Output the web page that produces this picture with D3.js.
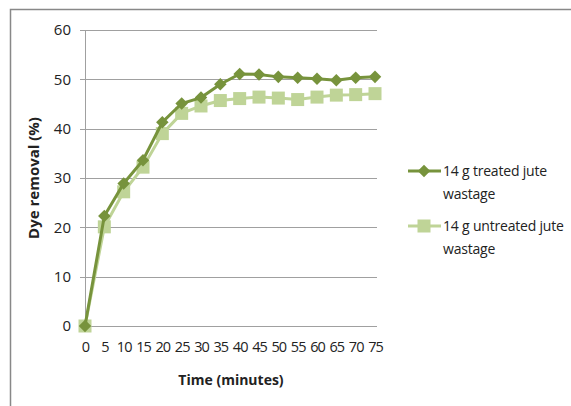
<!DOCTYPE html>
<html>
<head>
<meta charset="utf-8">
<script src="https://cdn.jsdelivr.net/npm/d3@7"></script>
<style>
  body { margin: 0; background: #fff; }
  text { font-family: "Open Sans", "Noto Sans", sans-serif; fill: #222; }
</style>
</head>
<body>
<svg id="chart" width="571" height="406"></svg>
<script>
let times = [0, 5, 10, 15, 20, 25, 30, 35, 40, 45, 50, 55, 60, 65, 70, 75];
let treated = [0, 22.3, 28.9, 33.6, 41.3, 45.1, 46.3, 49.0, 51.1, 51.0, 50.5, 50.3, 50.1, 49.8, 50.3, 50.5];
let untreated = [0, 20.1, 27.2, 32.2, 39.0, 43.1, 44.6, 45.7, 46.1, 46.4, 46.2, 45.9, 46.4, 46.8, 46.9, 47.1];
let yTicks = [0, 10, 20, 30, 40, 50, 60];
let seriesNames = [["14 g treated jute", "wastage"], ["14 g untreated jute", "wastage"]];

let darkGreen = "#77933c";
let lightGreen = "#bfd497";

let svg = d3.select("#chart");

// chart border (cut at right and bottom)
svg.append("path")
  .attr("d", "M10.5,406 L10.5,9.5 L571,9.5")
  .attr("fill", "none")
  .attr("stroke", "#888")
  .attr("stroke-width", 1.5);

let plotLeft = 85, plotRight = 375, plotTop = 30, plotBottom = 326;

let x = d3.scalePoint()
  .domain(times)
  .range([plotLeft, plotRight]);

let y = d3.scaleLinear()
  .domain([0, 60])
  .range([plotBottom, plotTop]);

// gridlines
svg.append("g")
  .selectAll("line")
  .data(yTicks)
  .enter()
  .append("line")
  .attr("x1", plotLeft - 5)
  .attr("x2", plotRight + 2)
  .attr("y1", d => Math.round(y(d)) + 0.5)
  .attr("y2", d => Math.round(y(d)) + 0.5)
  .attr("stroke", "#a0a0a0")
  .attr("stroke-width", 1);

// y axis line
svg.append("line")
  .attr("x1", plotLeft + 0.5).attr("x2", plotLeft + 0.5)
  .attr("y1", plotTop).attr("y2", plotBottom)
  .attr("stroke", "#a0a0a0");

let yAxis = d3.axisLeft(y).tickValues(yTicks).tickSize(0).tickPadding(14);
let gy = svg.append("g")
  .attr("transform", "translate(" + plotLeft + ",0)")
  .call(yAxis);
gy.select(".domain").remove();
gy.selectAll("text").style("font-size", "15px").attr("fill", "#222");

let xAxis = d3.axisBottom(x).tickSize(0).tickPadding(16);
let gx = svg.append("g")
  .attr("transform", "translate(0," + plotBottom + ")")
  .call(xAxis);
gx.select(".domain").remove();
gx.selectAll("text")
  .style("font-size", "14.5px")
  .style("letter-spacing", "-1px")
  .attr("fill", "#222");

// axis titles
svg.append("text")
  .attr("transform", "translate(39,178) rotate(-90)")
  .attr("text-anchor", "middle")
  .style("font-size", "15px")
  .style("font-weight", "bold")
  .text("Dye removal (%)");

svg.append("text")
  .attr("x", 231)
  .attr("y", 385)
  .attr("text-anchor", "middle")
  .style("font-size", "14px")
  .style("font-weight", "bold")
  .text("Time (minutes)");

let line = d3.line()
  .x((d, i) => x(times[i]))
  .y(d => y(d));

// untreated series (squares)
svg.append("path")
  .datum(untreated)
  .attr("d", line)
  .attr("fill", "none")
  .attr("stroke", lightGreen)
  .attr("stroke-width", 3);

svg.append("g")
  .selectAll("rect")
  .data(untreated)
  .enter()
  .append("rect")
  .attr("x", (d, i) => x(times[i]) - 6.5)
  .attr("y", d => y(d) - 6.5)
  .attr("width", 13)
  .attr("height", 13)
  .attr("fill", lightGreen);

// treated series (diamonds)
svg.append("path")
  .datum(treated)
  .attr("d", line)
  .attr("fill", "none")
  .attr("stroke", darkGreen)
  .attr("stroke-width", 3);

let diamond = d3.symbol().type(d3.symbolDiamond2).size(100);
svg.append("g")
  .selectAll("path")
  .data(treated)
  .enter()
  .append("path")
  .attr("d", diamond)
  .attr("transform", (d, i) => "translate(" + x(times[i]) + "," + y(d) + ")")
  .attr("fill", darkGreen);

// legend
let legendY = [171, 226];
let colors = [darkGreen, lightGreen];
seriesNames.forEach(function(name, i) {
  let g = svg.append("g");
  g.append("line")
    .attr("x1", 408).attr("x2", 441)
    .attr("y1", legendY[i]).attr("y2", legendY[i])
    .attr("stroke", colors[i])
    .attr("stroke-width", 3);
  if (i === 0) {
    g.append("path")
      .attr("d", diamond)
      .attr("transform", "translate(424," + legendY[i] + ")")
      .attr("fill", colors[i]);
  } else {
    g.append("rect")
      .attr("x", 417.5).attr("y", legendY[i] - 6.5)
      .attr("width", 13).attr("height", 13)
      .attr("fill", colors[i]);
  }
  g.append("text")
    .attr("x", 443)
    .attr("y", legendY[i] + 5)
    .style("font-size", "14px")
    .style("letter-spacing", "-0.2px")
    .text(name[0]);
  g.append("text")
    .attr("x", 443)
    .attr("y", legendY[i] + 28)
    .style("font-size", "14px")
    .style("letter-spacing", "-0.2px")
    .text(name[1]);
});
</script>
</body>
</html>
